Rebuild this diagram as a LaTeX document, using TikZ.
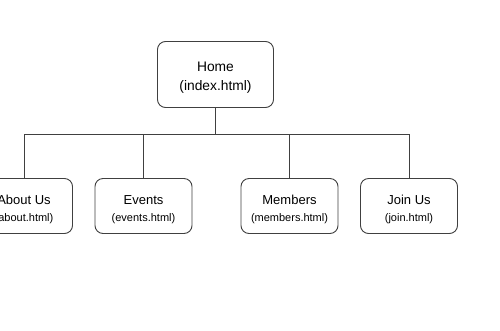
\documentclass[tikz,border=0pt]{standalone}
\usepackage{fontspec}
\setmainfont{Liberation Sans}
\usetikzlibrary{positioning,calc}
\definecolor{linegray}{HTML}{404040}
\tikzset{
  pagebox/.style={draw=linegray, line width=0.9pt, rounded corners=8pt, align=center, fill=white},
  homebox/.style={pagebox, minimum width=116pt, minimum height=66pt, font=\fontsize{13.8}{19}\selectfont},
  childbox/.style={pagebox, minimum width=97pt, minimum height=55pt, font=\fontsize{13}{17}\selectfont},
  treeline/.style={draw=linegray, line width=0.9pt},
}
% page title over its file name
\newcommand{\pagelabel}[2]{\rule{0pt}{15.5pt}#1\\{\fontsize{11}{17}\selectfont(#2)}}

\begin{document}
\begin{tikzpicture}[x=1pt, y=-1pt]
    \useasboundingbox (0,0) rectangle (500,330);
    \begin{scope}
    \clip (0,0) rectangle (500,330);
    \node[homebox] (home) at (215.5,74.5) {\rule{0pt}{16pt}Home\\(index.html)};
    \node[childbox] (about) at (24,206) {\pagelabel{About Us}{about.html}};
    \node[childbox] (events) at (143.5,206) {\pagelabel{Events}{events.html}};
    \node[childbox] (members) at (289.5,206) {\pagelabel{Members}{members.html}};
    \node[childbox] (join) at (409,206) {\pagelabel{Join Us}{join.html}};
    \coordinate (bar) at (home.south |- 0,134);
    % trunk and branches
    \draw[treeline] (home) -- (bar);
    \foreach \child in {about,events,members,join}
        \draw[treeline] (bar) -| (\child);
    \end{scope}
\end{tikzpicture}
\end{document}
